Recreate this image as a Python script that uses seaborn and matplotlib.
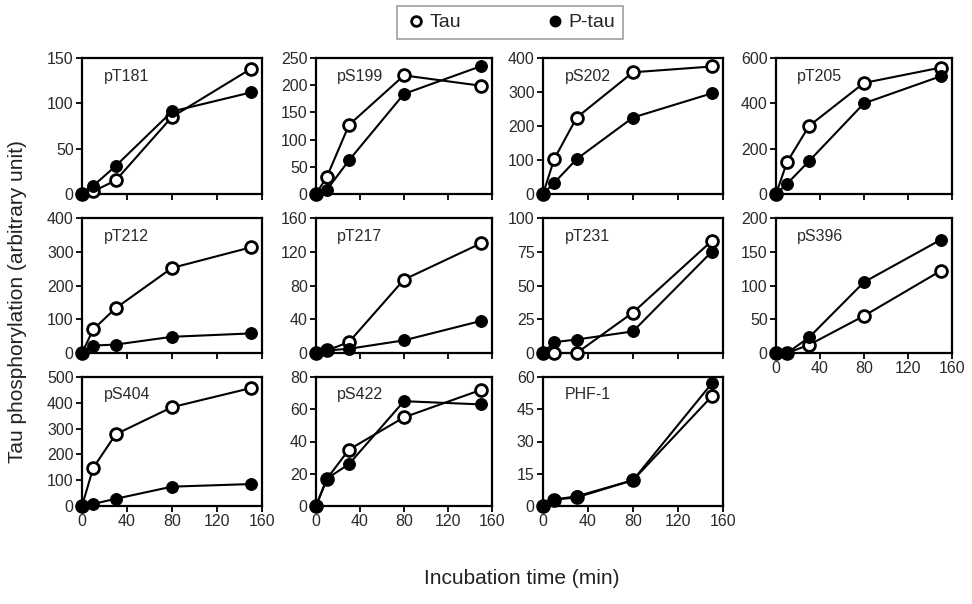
import matplotlib.pyplot as plt
import seaborn as sns
import pandas as pd
from matplotlib.lines import Line2D

# incubation times (min)
times = [0, 10, 30, 80, 150]

panels = ['pT181', 'pS199', 'pS202', 'pT205',
          'pT212', 'pT217', 'pT231', 'pS396',
          'pS404', 'pS422', 'PHF-1']

tau = {
    'pT181': [0, 3, 15, 85, 138],
    'pS199': [0, 32, 127, 218, 199],
    'pS202': [0, 103, 225, 358, 375],
    'pT205': [0, 140, 300, 490, 558],
    'pT212': [0, 70, 133, 252, 313],
    'pT217': [0, 3, 13, 87, 130],
    'pT231': [0, 0, 0, 30, 83],
    'pS396': [0, 0, 12, 55, 122],
    'pS404': [0, 148, 278, 383, 457],
    'pS422': [0, 17, 35, 55, 72],
    'PHF-1': [0, 3, 4, 12, 51],
}

ptau = {
    'pT181': [0, 9, 31, 91, 112],
    'pS199': [0, 8, 62, 184, 235],
    'pS202': [0, 33, 103, 225, 296],
    'pT205': [0, 45, 145, 400, 520],
    'pT212': [0, 22, 25, 48, 58],
    'pT217': [0, 3, 5, 15, 38],
    'pT231': [0, 8, 10, 16, 75],
    'pS396': [0, 0, 23, 105, 168],
    'pS404': [0, 8, 28, 75, 85],
    'pS422': [0, 17, 26, 65, 63],
    'PHF-1': [0, 3, 4.5, 12, 57],
}

y_ticks = {
    'pT181': [0, 50, 100, 150],
    'pS199': [0, 50, 100, 150, 200, 250],
    'pS202': [0, 100, 200, 300, 400],
    'pT205': [0, 200, 400, 600],
    'pT212': [0, 100, 200, 300, 400],
    'pT217': [0, 40, 80, 120, 160],
    'pT231': [0, 25, 50, 75, 100],
    'pS396': [0, 50, 100, 150, 200],
    'pS404': [0, 100, 200, 300, 400, 500],
    'pS422': [0, 20, 40, 60, 80],
    'PHF-1': [0, 15, 30, 45, 60],
}

x_ticks = [0, 40, 80, 120, 160]

sns.set_style('ticks')
plt.rcParams['font.family'] = ['Liberation Sans', 'DejaVu Sans']

W, H = 972, 604
fig = plt.figure(figsize=(W / 100, H / 100), dpi=100)

col_left = [82, 316, 543, 776]
col_width = [180, 176, 180, 176]
rows = [(58, 194), (218, 353), (377, 506)]

for i, name in enumerate(panels):
    r, c = divmod(i, 4)
    top, bot = rows[r]
    ax = fig.add_axes([col_left[c] / W, 1 - bot / H, col_width[c] / W, (bot - top) / H])

    df = pd.DataFrame({'time': times + times,
                       'value': tau[name] + ptau[name],
                       'form': ['Tau'] * 5 + ['P-tau'] * 5})
    sns.lineplot(data=df[df.form == 'Tau'], x='time', y='value', ax=ax,
                 color='black', lw=1.5, marker='o', markersize=8.5,
                 markerfacecolor='white', markeredgecolor='black',
                 markeredgewidth=2, clip_on=False, zorder=3)
    sns.lineplot(data=df[df.form == 'P-tau'], x='time', y='value', ax=ax,
                 color='black', lw=1.5, marker='o', markersize=8.5,
                 markerfacecolor='black', markeredgecolor='black',
                 clip_on=False, zorder=4)

    ax.set_xlim(0, 160)
    ax.set_ylim(0, y_ticks[name][-1])
    ax.set_xticks(x_ticks)
    ax.set_yticks(y_ticks[name])
    ax.set_xlabel('')
    ax.set_ylabel('')
    # only bottom row and pS396 show x tick labels
    if r < 2 and name != 'pS396':
        ax.set_xticklabels([])
    for s in ax.spines.values():
        s.set_linewidth(1.6)
        s.set_color('black')
    ax.tick_params(direction='out', length=4, width=1.3, labelsize=11.5,
                   colors='black', labelcolor='#2a2a2a', pad=2)
    ax.text(0.12, 0.92, name, transform=ax.transAxes, fontsize=11.5,
            color='#2a2a2a', va='top', ha='left')

fig.text(18 / W, 0.5, 'Tau phosphorylation (arbitrary unit)', rotation=90,
         fontsize=15, ha='center', va='center', color='#222222')
fig.text(522 / W, 1 - 578 / H, 'Incubation time (min)', fontsize=15,
         ha='center', va='center', color='#222222')

handles = [Line2D([], [], ls='', marker='o', markersize=7, markerfacecolor='white',
                  markeredgecolor='black', markeredgewidth=2),
           Line2D([], [], ls='', marker='o', markersize=7.5, markerfacecolor='black',
                  markeredgecolor='black')]
leg = fig.legend(handles, ['Tau', 'P-tau'], loc='upper center', ncol=2,
                 bbox_to_anchor=(510 / W, 1 - 6 / H), fontsize=14, frameon=True,
                 fancybox=False, edgecolor='#888888', handletextpad=0.1,
                 columnspacing=4.2, handlelength=1.2, borderpad=0.4,
                 borderaxespad=0)
leg.get_frame().set_linewidth(1.2)

plt.savefig('out.png', dpi=100)
